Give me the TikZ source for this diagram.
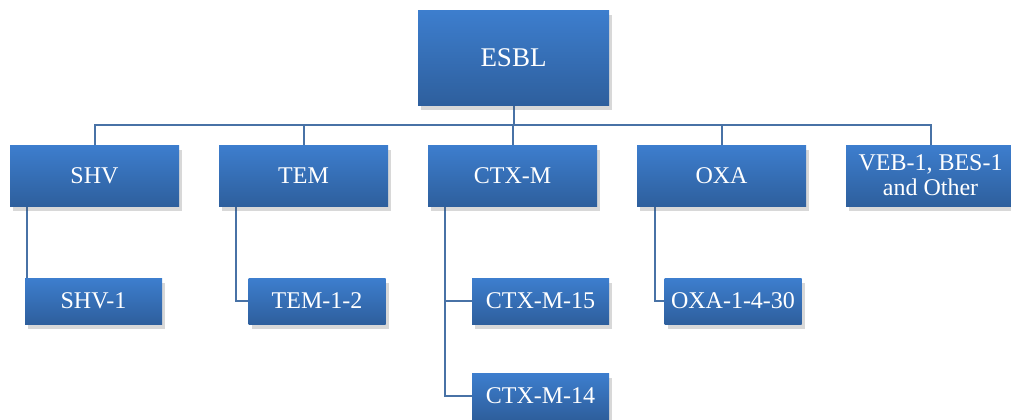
\documentclass[tikz,border=0pt]{standalone}
\usepackage{fontspec}
\setmainfont{Liberation Serif}
\usetikzlibrary{positioning,calc,shadows,backgrounds}
\definecolor{boxtop}{RGB}{61,126,206}
\definecolor{boxbottom}{RGB}{46,95,157}
\definecolor{linkcol}{RGB}{72,114,166}

\begin{document}
\begin{tikzpicture}[
    every node/.style={inner sep=0, outer sep=0},
    blockbox/.style={rectangle, top color=boxtop, bottom color=boxbottom,
        text=white, align=center,
        drop shadow={shadow xshift=1.5pt, shadow yshift=-2.5pt, opacity=0.22, fill=black!70}},
    rootbox/.style={blockbox, minimum width=95.5pt, minimum height=47.5pt, font=\fontsize{13.5}{16}\selectfont},
    typebox/.style={blockbox, minimum width=84.5pt, minimum height=30.5pt, font=\fontsize{12}{12.4}\selectfont},
    subbox/.style={blockbox, minimum width=68.5pt, minimum height=23pt, font=\fontsize{12}{14}\selectfont},
    link/.style={draw=linkcol, line width=1pt}
]
\useasboundingbox (0,0) rectangle (505.5pt,-209.5pt);
\node[rootbox] (esbl) at (256.75pt,-28.75pt) {ESBL} ;
\node[typebox] (shv) at (47.25pt,-87.75pt) {SHV} ;
\node[typebox, right=20pt of shv] (tem) {TEM} ;
\node[typebox, right=20pt of tem] (ctx) {CTX-M} ;
\node[typebox, right=20pt of ctx] (oxa) {OXA} ;
\node[typebox, right=20pt of oxa] (veb) {VEB-1, BES-1\\and Other} ;
\node[subbox] (shv1) at (46.75pt,-150.5pt) {SHV-1} ;
\node[subbox] (tem12) at (158.5pt,-150.5pt) {TEM-1-2} ;
\node[subbox] (ctx15) at (270.25pt,-150.5pt) {CTX-M-15} ;
\node[subbox] (ctx14) at (270.25pt,-198pt) {CTX-M-14} ;
\node[subbox] (oxa1) at (366.5pt,-150.5pt) {OXA-1-4-30} ;
\coordinate (bus) at (0,-62.5pt) ;
\begin{scope}[on background layer]
\draw[link] (esbl.south) -- (esbl.south |- bus) ;
\draw[link] (shv.north) -- (shv.north |- bus) -- (veb.north |- bus) -- (veb.north) ;
\foreach \t in {tem,ctx,oxa}
    \draw[link] (\t.north) -- (\t.north |- bus) ;
\draw[link] ([xshift=8.5pt]shv.south west) |- (shv1.west) ;
\draw[link] ([xshift=8.5pt]tem.south west) |- (tem12.west) ;
\draw[link] ([xshift=8.5pt]ctx.south west) |- (ctx15.west) ;
\draw[link] ([xshift=8.5pt]ctx.south west) |- (ctx14.west) ;
\draw[link] ([xshift=9pt]oxa.south west) |- (oxa1.west) ;
\end{scope}
\end{tikzpicture}
\end{document}
